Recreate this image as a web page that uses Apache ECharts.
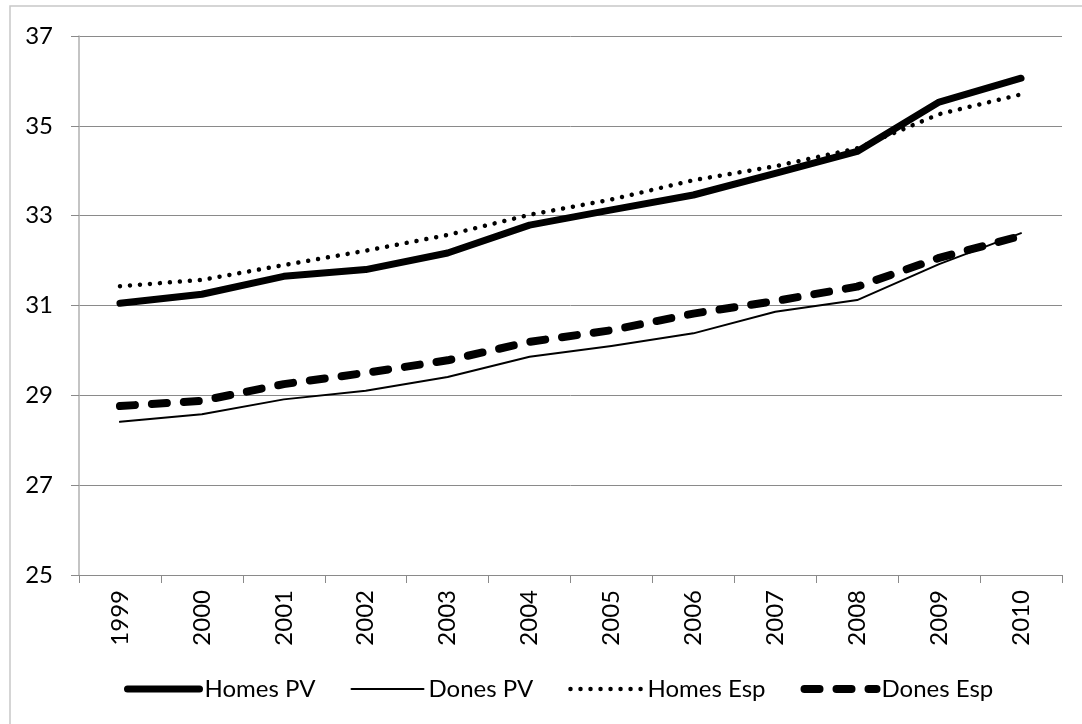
<!DOCTYPE html>
<html>
<head>
<meta charset="utf-8">
<style>
  html, body { margin: 0; padding: 0; background: #fff; }
  #chart { width: 1082px; height: 724px; }
</style>
<script src="https://cdn.jsdelivr.net/npm/echarts@6/dist/echarts.min.js"></script>
</head>
<body>
<div id="chart"></div>
<script>
// data
const years = ["1999", "2000", "2001", "2002", "2003", "2004", "2005", "2006", "2007", "2008", "2009", "2010"];
const homesPV = [31.05, 31.25, 31.65, 31.8, 32.17, 32.79, 33.13, 33.46, 33.94, 34.43, 35.53, 36.06];
const donesPV = [28.41, 28.58, 28.91, 29.1, 29.41, 29.86, 30.1, 30.38, 30.86, 31.12, 31.92, 32.61];
const homesEsp = [31.43, 31.57, 31.9, 32.22, 32.57, 33.02, 33.36, 33.79, 34.1, 34.5, 35.26, 35.7];
const donesEsp = [28.76, 28.88, 29.25, 29.5, 29.78, 30.19, 30.45, 30.82, 31.1, 31.42, 32.06, 32.55];
const seriesNames = ["Homes PV", "Dones PV", "Homes Esp", "Dones Esp"];

const font = "Lato, 'Open Sans', sans-serif";

// line looks, same for plot and legend
const styles = [
  { width: 7 },
  { width: 2 },
  { width: 4.5, type: [0.01, 10] },
  { width: 8, type: [15, 17] },
];

let myChart = echarts.init(document.getElementById("chart"), null, { renderer: "canvas" });

function lineStyleOf(i) {
  return Object.assign({ color: "#000", cap: "round", join: "round" }, styles[i]);
}

let option = {
  animation: false,
  backgroundColor: "#fff",
  textStyle: { fontFamily: font },
  graphic: [
    {
      type: "rect",
      z: -10,
      shape: { x: 10, y: 6, width: 1200, height: 900 },
      style: { fill: "none", stroke: "#c8c8c8", lineWidth: 1.5 },
    },
  ],
  grid: {
    left: 79,
    right: 20,
    top: 36,
    bottom: 149,
    containLabel: false,
  },
  xAxis: {
    type: "category",
    data: years,
    boundaryGap: true,
    axisLine: { lineStyle: { color: "#8a8a8a", width: 1 } },
    axisTick: { show: true, length: 8, lineStyle: { color: "#8a8a8a" } },
    axisLabel: {
      rotate: 90,
      interval: 0,
      margin: 15,
      color: "#000",
      fontSize: 24,
      fontFamily: font,
    },
  },
  yAxis: {
    type: "value",
    min: 25,
    max: 37,
    interval: 2,
    axisLine: { show: true, lineStyle: { color: "#b0b0b0", width: 1.5 } },
    axisTick: { show: true, length: 8, lineStyle: { color: "#8a8a8a" } },
    axisLabel: {
      margin: 26,
      color: "#000",
      fontSize: 24,
      fontFamily: font,
    },
    splitLine: { show: true, lineStyle: { color: "#8a8a8a", width: 1 } },
  },
  legend: {
    left: 119,
    top: 672,
    itemWidth: 72,
    itemHeight: 14,
    itemGap: 35,
    textStyle: { color: "#000", fontSize: 24, fontFamily: font },
    data: seriesNames.map((n, i) => ({
      name: n,
      itemStyle: { opacity: 0 },
      lineStyle: lineStyleOf(i),
    })),
  },
  series: seriesNames.map((n, i) => ({
    name: n,
    type: "line",
    data: [homesPV, donesPV, homesEsp, donesEsp][i],
    symbol: "none",
    lineStyle: lineStyleOf(i),
    itemStyle: { color: "#000" },
  })),
};

myChart.setOption(option);
</script>
</body>
</html>
